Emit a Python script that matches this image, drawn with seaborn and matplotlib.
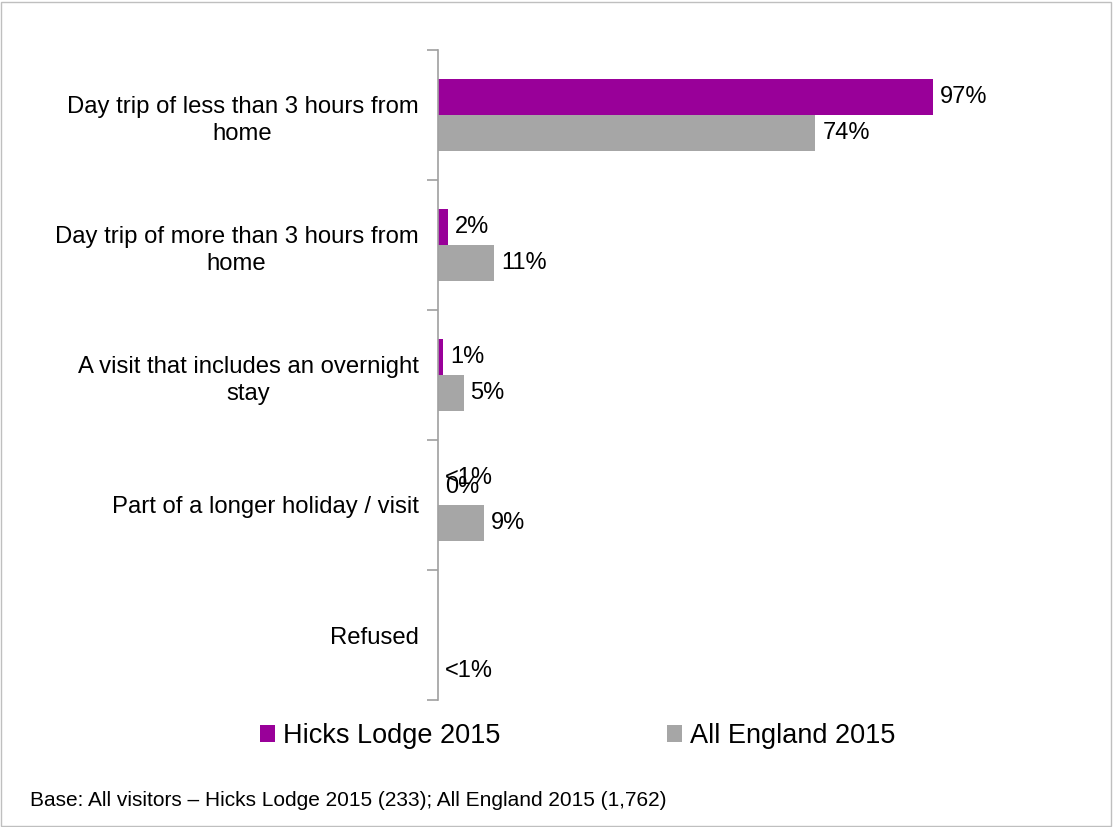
import matplotlib
matplotlib.use("Agg")
import matplotlib.pyplot as plt
import matplotlib.patches as mpatches
import seaborn as sns
import pandas as pd

categories = [
    "Day trip of less than 3 hours from\nhome",
    "Day trip of more than 3 hours from\nhome",
    "A visit that includes an overnight\nstay",
    "Part of a longer holiday / visit",
    "Refused",
]
series = ["Hicks Lodge 2015", "All England 2015"]
hicks = [97, 2, 1, 0, 0]
england = [74, 11, 5, 9, 0]
hicks_labels = ["97%", "2%", "1%", "0%", ""]
england_labels = ["74%", "11%", "5%", "9%", ""]
# extra "<1%" notes: (category index, vertical offset within category)
small_notes = [(3, -0.21), (4, 0.28)]
colors = ["#990099", "#A6A6A6"]

sns.set_style("white")
plt.rcParams["font.family"] = ["Liberation Sans", "DejaVu Sans"]
plt.rcParams["text.color"] = "black"
plt.rcParams["ytick.labelcolor"] = "black"

df = pd.DataFrame({
    "category": categories * 2,
    "series": [series[0]] * len(categories) + [series[1]] * len(categories),
    "value": hicks + england,
})

fig = plt.figure(figsize=(11.13, 8.27), dpi=100)
ax = fig.add_axes([438 / 1113, 1 - 700 / 827, 510 / 1113, 650 / 827])

sns.barplot(data=df, y="category", x="value", hue="series", order=categories,
            hue_order=series, palette=colors, orient="h", width=0.56,
            saturation=1, edgecolor="none", ax=ax, legend=True)

ax.set_xlim(0, 100)
ax.set_ylim(4.5, -0.5)
ax.set_xlabel("")
ax.set_ylabel("")
ax.set_xticks([])
for s in ["top", "right", "bottom"]:
    ax.spines[s].set_visible(False)
ax.spines["left"].set_color("#A0A0A0")
ax.spines["left"].set_linewidth(1.2)

ax.set_yticks(range(len(categories)))
ax.set_yticklabels(categories, fontsize=17.2, color="black")
for lbl in ax.get_yticklabels():
    lbl.set_multialignment("center")
    lbl.set_linespacing(1.3)
ax.tick_params(axis="y", which="major", length=0, pad=14)
ax.set_yticks([i - 0.5 for i in range(len(categories) + 1)], minor=True)
ax.tick_params(axis="y", which="minor", length=8, color="#A0A0A0", width=1.2,
               direction="out", left=True)

# value labels beside the bars
for container, labels in zip(ax.containers, [hicks_labels, england_labels]):
    ax.bar_label(container, labels=labels, padding=5, fontsize=17, color="black",
                 clip_on=False)

for idx, off in small_notes:
    ax.annotate("<1%", xy=(0, idx + off), xytext=(5, 0), textcoords="offset points",
                va="center", ha="left", fontsize=17, color="black")

handles, labs = ax.get_legend_handles_labels()
leg = ax.legend(handles, labs, loc="upper left", bbox_to_anchor=(260 / 1113, 1 - 723 / 827),
                bbox_transform=fig.transFigure, ncol=2, frameon=False, fontsize=19.5,
                handlelength=0.55, handleheight=0.55, handletextpad=0.3, columnspacing=6.15,
                borderaxespad=0, borderpad=0)
for t in leg.get_texts():
    t.set_color("black")

fig.text(30 / 1113, 1 - 801 / 827,
         "Base: All visitors \u2013 Hicks Lodge 2015 (233); All England 2015 (1,762)",
         fontsize=15, va="center", ha="left", color="black")

fig.patches.append(mpatches.Rectangle((0.001, 0.001), 0.997, 0.997, transform=fig.transFigure,
                                      fill=False, edgecolor="#BFBFBF", linewidth=1))

fig.savefig("out.png", dpi=100)
